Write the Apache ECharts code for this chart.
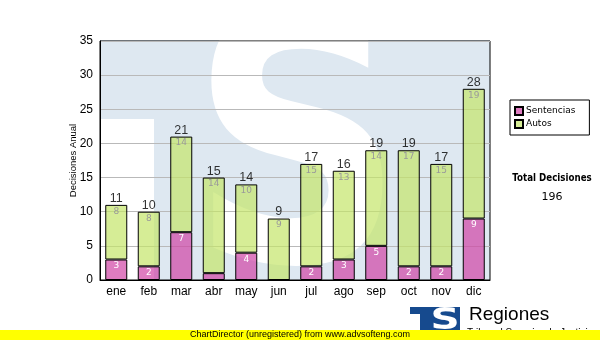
<!DOCTYPE html>
<html>
<head>
<meta charset="utf-8">
<script src="https://cdn.jsdelivr.net/npm/echarts@6/dist/echarts.min.js"></script>
<style>
  html, body { margin: 0; padding: 0; background: #fff; }
  #chart { width: 600px; height: 340px; }
</style>
</head>
<body>
<div id="chart"></div>
<script>
// Monthly decisions, split into sentences and rulings
const months = ['ene', 'feb', 'mar', 'abr', 'may', 'jun', 'jul', 'ago', 'sep', 'oct', 'nov', 'dic'];
const sentencias = [3, 2, 7, 1, 4, 0, 2, 3, 5, 2, 2, 9];
const autos = [8, 8, 14, 14, 10, 9, 15, 13, 14, 17, 15, 19];
const yMin = 0, yMax = 35, yStep = 5;

const totals = months.map((m, i) => sentencias[i] + autos[i]);
const grandTotal = totals.reduce((a, b) => a + b, 0);

const AX_FONT = 'Liberation Sans, Arial, sans-serif';
const LIGHT = '#dee8f1';
const LOGO = '#164a8e';

const chart = echarts.init(document.getElementById('chart'), null, { renderer: 'canvas' });

chart.setOption({
  animation: false,
  backgroundColor: '#fff',
  grid: {
    left: 100, right: 110, top: 41, bottom: 60,
    show: true, borderColor: '#000', borderWidth: 1, backgroundColor: 'transparent'
  },
  legend: {
    data: ['Sentencias', 'Autos'],
    orient: 'vertical',
    left: 510, top: 100,
    borderColor: '#000', borderWidth: 1,
    padding: [6, 14, 6, 4],
    itemWidth: 8, itemHeight: 8, itemGap: 3,
    icon: 'rect',
    textStyle: { fontFamily: 'DejaVu Sans, Verdana, sans-serif', fontSize: 9, color: '#000', padding: [0, 0, 0, -2] }
  },
  xAxis: {
    type: 'category',
    data: months,
    axisLine: { lineStyle: { color: '#000', width: 1 } },
    axisTick: { show: false },
    axisLabel: { color: '#000', fontFamily: AX_FONT, fontSize: 12, margin: 6 },
    z: 5
  },
  yAxis: {
    type: 'value',
    min: yMin, max: yMax, interval: yStep,
    name: 'Decisiones Anual',
    nameLocation: 'middle',
    nameGap: 22,
    nameRotate: 90,
    nameMoveOverlap: false,
    nameTextStyle: { fontFamily: AX_FONT, fontSize: 9.5, color: '#000' },
    axisLine: { show: true, lineStyle: { color: '#000', width: 1 } },
    axisTick: { show: false },
    axisLabel: { color: '#000', fontFamily: AX_FONT, fontSize: 12, margin: 7 },
    splitLine: { lineStyle: { color: '#b9b9b9', width: 1 } }
  },
  series: [
    {
      name: 'Sentencias',
      type: 'bar',
      stack: 'total',
      barWidth: 22,
      data: sentencias,
      itemStyle: { color: 'rgba(208,68,165,0.7)', borderColor: '#000', borderWidth: 1 },
      label: {
        show: true, position: 'insideTop', distance: 2,
        color: '#fff', fontFamily: 'DejaVu Sans, Verdana, sans-serif', fontSize: 9,
        formatter: p => (p.value >= 2 ? String(p.value) : '')
      }
    },
    {
      name: 'Autos',
      type: 'bar',
      stack: 'total',
      barWidth: 22,
      data: autos,
      itemStyle: { color: 'rgba(196,229,105,0.7)', borderColor: '#000', borderWidth: 1 },
      label: {
        show: true, position: 'insideTop', distance: 2,
        color: '#9a9a9a', fontFamily: 'DejaVu Sans, Verdana, sans-serif', fontSize: 9
      }
    },
    {
      name: 'Total',
      type: 'scatter',
      data: totals,
      symbolSize: 0,
      silent: true,
      label: {
        show: true, position: 'top', distance: 0,
        color: '#000', fontFamily: AX_FONT, fontSize: 12.5
      },
      z: 6
    }
  ],
  graphic: [
    // pale logo watermark behind the plot
    { type: 'rect', z: -3, shape: { x: 100, y: 40, width: 390, height: 240 }, style: { fill: LIGHT } },
    { type: 'rect', z: -2, shape: { x: 100, y: 119, width: 54, height: 161 }, style: { fill: '#fff' } },
    {
      type: 'text', z: -2, x: 190, y: 170, scaleX: 0.85,
      style: { text: 'S', font: 'bold 350px "DejaVu Sans"', fill: '#fff', textAlign: 'left', textVerticalAlign: 'middle' }
    },
    // side summary
    {
      type: 'text', x: 552, y: 178, scaleX: 0.87,
      style: { text: 'Total Decisiones', font: 'bold 10px "DejaVu Sans"', fill: '#000', textAlign: 'center', textVerticalAlign: 'middle' }
    },
    {
      type: 'text', x: 552, y: 197,
      style: { text: String(grandTotal), font: '11px "DejaVu Sans"', fill: '#000', textAlign: 'center', textVerticalAlign: 'middle' }
    },
    // logo block
    { type: 'rect', z: 10, shape: { x: 410, y: 307, width: 24, height: 7 }, style: { fill: LOGO } },
    { type: 'rect', z: 10, shape: { x: 420, y: 307, width: 14, height: 28 }, style: { fill: LOGO } },
    { type: 'rect', z: 10, shape: { x: 433, y: 307, width: 27, height: 28 }, style: { fill: LOGO } },
    {
      type: 'text', z: 11, x: 445, y: 321, scaleX: 1.35,
      style: { text: 'S', font: 'bold 30px "DejaVu Sans"', fill: '#fff', textAlign: 'center', textVerticalAlign: 'middle' }
    },
    {
      type: 'text', z: 10, x: 469, y: 315,
      style: { text: 'Regiones', font: '19px "Liberation Sans"', fill: '#000', textAlign: 'left', textVerticalAlign: 'middle' }
    },
    {
      type: 'text', z: 10, x: 467, y: 328,
      style: { text: 'Tribunal Superior de Justicia', font: '10px "Liberation Sans"', fill: '#000', textAlign: 'left', textVerticalAlign: 'top' }
    },
    // footer banner
    { type: 'rect', z: 20, shape: { x: 0, y: 330, width: 600, height: 10 }, style: { fill: '#ffff00' } },
    {
      type: 'text', z: 21, x: 300, y: 335,
      style: { text: 'ChartDirector (unregistered) from www.advsofteng.com', font: '9px "Liberation Sans"', fill: '#000', textAlign: 'center', textVerticalAlign: 'middle' }
    }
  ]
});
</script>
</body>
</html>
